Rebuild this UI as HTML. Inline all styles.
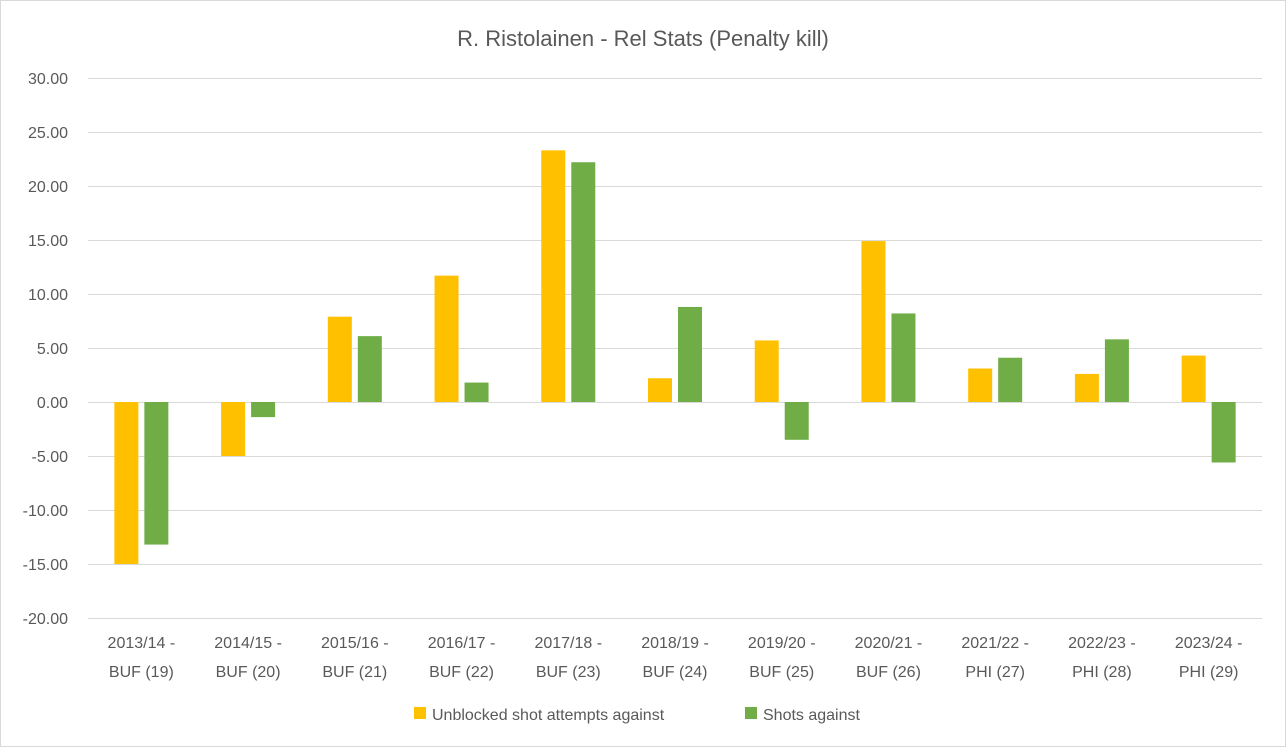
<!DOCTYPE html>
<html><head><meta charset="utf-8"><style>body{margin:0;background:#fff}svg{display:block}text{font-family:"Liberation Sans",sans-serif;fill:#595959}</style></head><body>
<svg width="1286" height="747" viewBox="0 0 1286 747" xmlns="http://www.w3.org/2000/svg">
<rect x="0.5" y="0.5" width="1285" height="746" fill="#fff" stroke="#d9d9d9"/>
<text x="643" y="46" font-size="22" text-anchor="middle">R. Ristolainen - Rel Stats (Penalty kill)</text>
<g id="grid" stroke="#d9d9d9" stroke-width="1"></g>
<g id="ylab" font-size="16" text-anchor="end"></g>
<g id="bars"></g>
<g id="xlab" font-size="16" text-anchor="middle"></g>
<rect x="414" y="707" width="12" height="12" fill="#FFC000"/>
<text x="432" y="720" font-size="16">Unblocked shot attempts against</text>
<rect x="745" y="707" width="12" height="12" fill="#70AD47"/>
<text x="763" y="720" font-size="16">Shots against</text>
</svg>
<script>
const ns="http://www.w3.org/2000/svg";
function el(p,t,a,txt){const e=document.createElementNS(ns,t);for(const k in a)e.setAttribute(k,a[k]);if(txt!=null)e.textContent=txt;document.getElementById(p).appendChild(e);}
const y0=402,s=10.8,x0=88,x1=1262;
for(let v=-20;v<=30;v+=5){const y=y0-v*s;el("grid","line",{x1:x0,x2:x1,y1:y+0.5,y2:y+0.5});el("ylab","text",{x:68,y:y+6},v.toFixed(2));}
const Y=[-15.0,-5.0,7.9,11.7,23.3,2.2,5.7,14.9,3.1,2.6,4.3];
const G=[-13.2,-1.4,6.1,1.8,22.2,8.8,-3.5,8.2,4.1,5.8,-5.6];
const L=[["2013/14 -","BUF (19)"],["2014/15 -","BUF (20)"],["2015/16 -","BUF (21)"],["2016/17 -","BUF (22)"],["2017/18 -","BUF (23)"],["2018/19 -","BUF (24)"],["2019/20 -","BUF (25)"],["2020/21 -","BUF (26)"],["2021/22 -","PHI (27)"],["2022/23 -","PHI (28)"],["2023/24 -","PHI (29)"]];
const w=(x1-x0)/11;
for(let i=0;i<11;i++){const c=x0+w*(i+0.5);
function bar(v,x,col){const y=v>=0?y0-v*s:y0;el("bars","rect",{x:x,y:y,width:24,height:Math.abs(v)*s,fill:col});}
bar(Y[i],c-27,"#FFC000");bar(G[i],c+3,"#70AD47");
el("xlab","text",{x:c,y:648},L[i][0]);el("xlab","text",{x:c,y:677},L[i][1]);}
</script>
</body></html>
